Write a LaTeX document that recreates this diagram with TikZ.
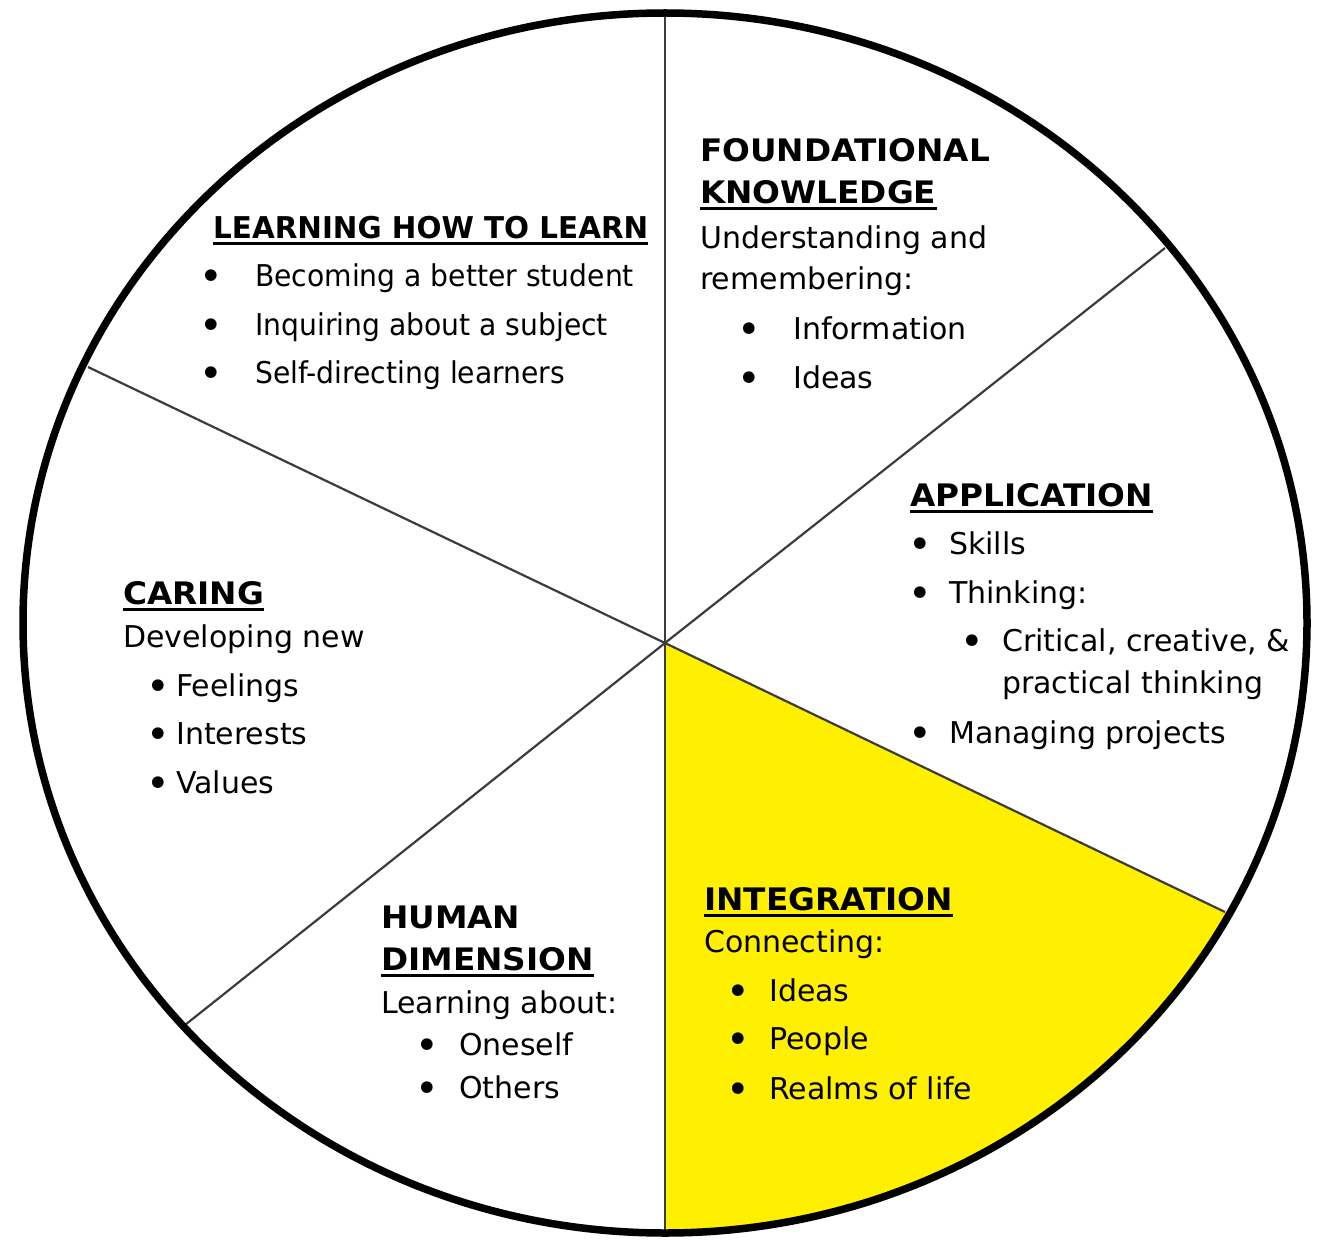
\documentclass[tikz,border=0pt]{standalone}
\usepackage{fontspec}
\setmainfont{DejaVu Sans}
\newfontfamily\hdfont{DejaVu Sans}[FakeStretch=1.055]
\newfontfamily\lhhdfont{DejaVu Sans}[FakeStretch=0.98]
\newfontfamily\lhfont{DejaVu Sans}[FakeStretch=0.94]
\definecolor{wheelyellow}{RGB}{255,240,0}
\definecolor{spokegray}{RGB}{60,60,60}
\tikzset{
  txt/.style={anchor=base west, inner sep=0pt, font=\fontsize{30}{36}\selectfont},
  lhtxt/.style={anchor=base west, inner sep=0pt, font=\lhfont\fontsize{30}{36}\selectfont},
  hd/.style={anchor=base west, inner sep=0pt, font=\hdfont\fontsize{31}{36}\selectfont\bfseries},
  lhhd/.style={anchor=base west, inner sep=0pt, font=\lhhdfont\fontsize{30}{36}\selectfont\bfseries},
  bul/.style={anchor=base, inner sep=0pt, yshift=-4pt, font=\fontsize{40}{40}\selectfont},
  ul/.style={line width=3pt, black},
  spoke/.style={line width=2.2pt, spokegray},
  rim/.style={line width=7.5pt, black}
}
\begin{document}
\begin{tikzpicture}[x=1pt,y=-1pt]
\useasboundingbox (0,0) rectangle (1320,1241);
\fill[white] (0,0) rectangle (1320,1241);
% points
\coordinate (c) at (665,643);
\coordinate (top) at (665,10);
\coordinate (bot) at (665,1236);
\coordinate (ur) at (1165,248);
\coordinate (lr) at (1225,912);
\coordinate (ul) at (88,367);
\coordinate (ll) at (185,1025);
% yellow sector
\begin{scope}
  \clip (665,623) ellipse [x radius=642pt, y radius=610pt];
  \fill[wheelyellow] (c) -- (665,1400) -- (1505,1400) -- (1505,1046) -- cycle;
\end{scope}
% spokes
\draw[spoke] (c) -- (top);
\draw[spoke] (c) -- (bot);
\draw[spoke] (c) -- (ur);
\draw[spoke] (c) -- (lr);
\draw[spoke] (c) -- (ul);
\draw[spoke] (c) -- (ll);
% rim
\draw[rim] (665,623) ellipse [x radius=642pt, y radius=610pt];

% LEARNING HOW TO LEARN
\node[lhhd] (lh) at (213,239) {LEARNING HOW TO LEARN};
\draw[ul] ([yshift=-5pt]lh.base west) -- ([yshift=-5pt]lh.base east);
\node[bul] (lb1) at (211,287) {•};
\node[lhtxt] (l1) at (255,287) {Becoming a better student};
\node[bul] (lb2) at (211,335) {•};
\node[lhtxt] (l2) at (255,335) {Inquiring about a subject};
\node[bul] (lb3) at (211,383) {•};
\node[lhtxt] (l3) at (255,383) {Self-directing learners};

% FOUNDATIONAL KNOWLEDGE
\node[hd] (fk1) at (700,162) {FOUNDATIONAL};
\node[hd] (fk2) at (700,204) {KNOWLEDGE};
\draw[ul] ([yshift=-5pt]fk2.base west) -- ([yshift=-5pt]fk2.base east);
\node[txt] (f1) at (700,249) {Understanding and};
\node[txt] (f2) at (700,290) {remembering:};
\node[bul] (fb1) at (749,339) {•};
\node[txt] (f3) at (793,339) {Information};
\node[bul] (fb2) at (749,388) {•};
\node[txt] (f4) at (793,388) {Ideas};

% APPLICATION
\node[hd] (ap) at (910,506) {APPLICATION};
\draw[ul] ([yshift=-5pt]ap.base west) -- ([yshift=-5pt]ap.base east);
\node[bul] (ab1) at (920,554) {•};
\node[txt] (a1) at (949,554) {Skills};
\node[bul] (ab2) at (920,603) {•};
\node[txt] (a2) at (949,603) {Thinking:};
\node[bul] (ab3) at (972,651) {•};
\node[txt] (a3) at (1002,651) {Critical, creative, \&};
\node[txt] (a4) at (1002,693) {practical thinking};
\node[bul] (ab4) at (920,743) {•};
\node[txt] (a5) at (949,743) {Managing projects};

% CARING
\node[hd] (ca) at (123,604) {CARING};
\draw[ul] ([yshift=-5pt]ca.base west) -- ([yshift=-5pt]ca.base east);
\node[txt] (c1) at (123,647) {Developing new};
\node[bul] (cb1) at (158,696) {•};
\node[txt] (c2) at (176,696) {Feelings};
\node[bul] (cb2) at (158,744) {•};
\node[txt] (c3) at (176,744) {Interests};
\node[bul] (cb3) at (158,793) {•};
\node[txt] (c4) at (176,793) {Values};

% HUMAN DIMENSION
\node[hd] (hd1) at (381,928) {HUMAN};
\node[hd] (hd2) at (381,970) {DIMENSION};
\draw[ul] ([yshift=-5pt]hd2.base west) -- ([yshift=-5pt]hd2.base east);
\node[txt] (h1) at (381,1013) {Learning about:};
\node[bul] (hb1) at (427,1055) {•};
\node[txt] (h2) at (459,1055) {Oneself};
\node[bul] (hb2) at (427,1098) {•};
\node[txt] (h3) at (459,1098) {Others};

% INTEGRATION
\node[hd] (in) at (704,910) {INTEGRATION};
\draw[ul] ([yshift=-5pt]in.base west) -- ([yshift=-5pt]in.base east);
\node[txt] (i1) at (704,952) {Connecting:};
\node[bul] (ib1) at (738,1001) {•};
\node[txt] (i2) at (769,1001) {Ideas};
\node[bul] (ib2) at (738,1049) {•};
\node[txt] (i3) at (769,1049) {People};
\node[bul] (ib3) at (738,1099) {•};
\node[txt] (i4) at (769,1099) {Realms of life};
\end{tikzpicture}
\end{document}
